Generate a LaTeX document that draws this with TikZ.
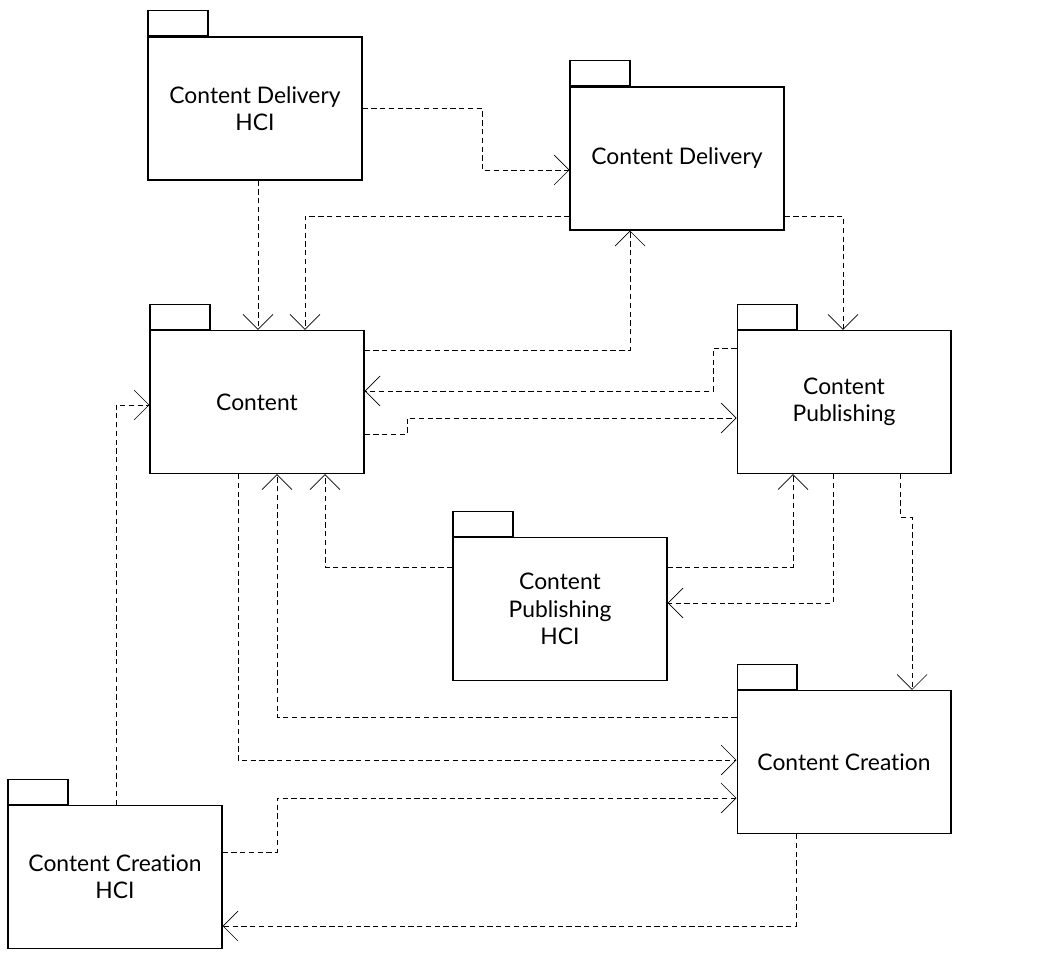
\documentclass[tikz,border=0pt]{standalone}
\usepackage{fontspec}
\setmainfont[Ligatures={NoCommon,NoRequired,NoContextual,NoDiscretionary}]{Lato}
\usetikzlibrary{arrows.meta}
\begin{document}
\begin{tikzpicture}[x=0.02cm,y=-0.02cm,>={Straight Barb[length=3mm,width=6mm]}]

  \tikzstyle{package}=[rectangle,draw,semithick,minimum width=4.28cm,minimum height=2.86cm,align=center,font=\fontsize{13}{15.5}\selectfont]
  \tikzstyle{tab}=[rectangle,draw,semithick,minimum width=1.2cm,minimum height=0.5cm,anchor=south west,inner sep=0pt]
  \tikzstyle{dep}=[->,densely dashed,thin]

  \useasboundingbox (0,0) rectangle (1042,966);

  \node [package] (cdhci)  at (255,108.5) {Content Delivery\\HCI};
  \node [package] (cd)     at (677,158.5) {Content Delivery};
  \node [package] (ct)     at (257,402)   {Content};
  \node [package] (cp)     at (844,402)   {Content\\Publishing};
  \node [package] (cphci)  at (560,609)   {Content\\Publishing\\HCI};
  \node [package] (cc)     at (844,762)   {Content Creation};
  \node [package] (cchci)  at (115,877)   {Content Creation\\HCI};

  % tabs
  \foreach \p in {cdhci,cd,ct,cp,cphci,cc,cchci}
    \node [tab] (\p-tab) at (\p.north west) {};

  % dependencies
  \draw [dep] (cdhci.east |- 0,108) -| (482,170) -- (cd.west |- 0,170);
  \draw [dep] (cdhci.south -| 258,0) -- (ct.north -| 258,0);
  \draw [dep] (cd.west |- 0,216) -| (ct.north -| 305,0);
  \draw [dep] (ct.east |- 0,350) -| (cd.south -| 630,0);
  \draw [dep] (cd.east |- 0,216) -| (cp.north -| 843,0);
  \draw [dep] (cp.west |- 0,348) -| (713,391) -- (ct.east |- 0,391);
  \draw [dep] (ct.east |- 0,434) -| (407,418) -- (cp.west |- 0,418);
  \draw [dep] (cphci.west |- 0,567) -| (ct.south -| 325,0);
  \draw [dep] (cphci.east |- 0,567) -| (cp.south -| 793,0);
  \draw [dep] (cp.south -| 833,0) |- (cphci.east |- 0,603);
  \draw [dep] (cp.south -| 900,0) |- (912,517) -- (cc.north -| 912,0);
  \draw [dep] (cc.west |- 0,717) -| (ct.south -| 277,0);
  \draw [dep] (ct.south -| 238,0) |- (cc.west |- 0,760);
  \draw [dep] (cchci.north -| 116,0) |- (ct.west |- 0,405);
  \draw [dep] (cchci.east |- 0,852) -| (277,798) -- (cc.west |- 0,798);
  \draw [dep] (cc.south -| 796,0) |- (cchci.east |- 0,926);

\end{tikzpicture}
\end{document}
